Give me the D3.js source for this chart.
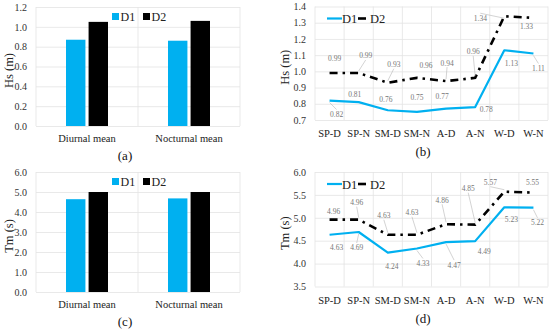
<!DOCTYPE html>
<html><head><meta charset="utf-8">
<script src="https://cdn.jsdelivr.net/npm/d3@7"></script>
<style>
html,body{margin:0;padding:0;background:#fff;}
svg{display:block;font-family:"Liberation Serif","Times New Roman",serif;}
</style></head>
<body><svg id="c" width="550" height="332"></svg>
<script>
// ---------- data ----------
const barCats = ["Diurnal mean", "Nocturnal mean"];
const hsBarD1 = [0.87, 0.86];
const hsBarD2 = [1.05, 1.06];
const tmBarD1 = [4.64, 4.68];
const tmBarD2 = [5.00, 5.00];
const hsBarTicks = [0, 0.2, 0.4, 0.6, 0.8, 1.0, 1.2];
const tmBarTicks = [0, 1, 2, 3, 4, 5, 6];

const seasonCats = ["SP-D", "SP-N", "SM-D", "SM-N", "A-D", "A-N", "W-D", "W-N"];
const hsD1 = [0.82, 0.81, 0.76, 0.75, 0.77, 0.78, 1.13, 1.11];
const hsD2 = [0.99, 0.99, 0.93, 0.96, 0.94, 0.96, 1.34, 1.33];
const tmD1 = [4.63, 4.69, 4.24, 4.33, 4.47, 4.49, 5.23, 5.22];
const tmD2 = [4.96, 4.96, 4.63, 4.63, 4.86, 4.85, 5.57, 5.55];
const hsLineTicks = [0.7, 0.8, 0.9, 1.0, 1.1, 1.2, 1.3, 1.4];
const tmLineTicks = [3.5, 4.0, 4.5, 5.0, 5.5, 6.0];

// ---------- layout (label offsets from points, px) ----------
const offHsD1 = [[7,14],[-4,-8],[-2,-11],[0,-14],[-4,-12],[11,2],[7,13],[5,15]];
const offHsD2 = [[5,-14],[7,-17],[6,-18],[9,-12],[1,-18],[-2,-26],[-24,2],[-7,9]];
const offTmD1 = [[7,13],[-2,16],[4,14],[6,15],[8,23],[9,10],[7,12],[4,15]];
const offTmD2 = [[4,-8],[-2,-17],[-4,-19],[-5,-22],[-4,-24],[-7,-36],[-14,-9],[-1,-10]];

const BLUE = "#00B0F0";
const GRID = "#e3e3e3";
const svg = d3.select("#c");

function yAxisLabels(g, y, ticks, x0, x1, fmt) {
  g.append("g")
    .attr("transform", `translate(${x0},0)`)
    .call(d3.axisLeft(y).tickValues(ticks).tickSize(-(x1 - x0)).tickFormat(fmt))
    .call(a => a.select(".domain").remove())
    .call(a => a.selectAll(".tick line").attr("stroke", GRID).attr("stroke-width", 0.8))
    .call(a => a.selectAll(".tick text").attr("x", -9).attr("fill", "#333")
      .style("font-size", "10px").style("font-family", "Liberation Serif"));
}

function barPanel(opts) {
  const { top, bottom, left, right, domainMax, ticks, d1, d2, ylabel, tag } = opts;
  const g = svg.append("g");
  const x = d3.scaleBand().domain(barCats).range([left, right]);
  const y = d3.scaleLinear().domain([0, domainMax]).range([bottom, top]);
  yAxisLabels(g, y, ticks, left, right, d3.format(".1f"));
  const edges = barCats.map(c => x(c)).concat([right]);
  g.selectAll("line.vg").data(edges).join("line")
    .attr("x1", d => d).attr("x2", d => d).attr("y1", top).attr("y2", bottom)
    .attr("stroke", GRID).attr("stroke-width", 0.8);
  const inner = d3.scaleBand().domain(["D1", "D2"]).range([0, 42]).paddingInner(0.14);
  const off = (x.bandwidth() - 42) / 2;
  const rows = [];
  barCats.forEach((c, i) => { rows.push({ c, s: "D1", v: d1[i] }); rows.push({ c, s: "D2", v: d2[i] }); });
  g.selectAll("rect.bar").data(rows).join("rect")
    .attr("x", d => x(d.c) + off + inner(d.s))
    .attr("width", inner.bandwidth())
    .attr("y", d => y(d.v)).attr("height", d => bottom - y(d.v))
    .attr("fill", d => d.s === "D1" ? BLUE : "#000");
  g.selectAll("text.cat").data(barCats).join("text")
    .attr("x", d => x(d) + x.bandwidth() / 2).attr("y", bottom + 16)
    .attr("text-anchor", "middle").attr("fill", "#222").style("font-size", "10.5px").text(d => d);
  g.append("text").attr("transform", `translate(13,${(top + bottom) / 2 + 4}) rotate(-90)`)
    .attr("text-anchor", "middle").attr("fill", "#222").style("font-size", "12.5px").text(ylabel);
  g.append("text").attr("x", 125).attr("y", bottom + 34).attr("text-anchor", "middle")
    .attr("fill", "#111").style("font-size", "13px").text(tag);
  const ly = top + 10;
  [["D1", BLUE, 112], ["D2", "#000", 143]].forEach(([t, c, lx]) => {
    g.append("rect").attr("x", lx).attr("y", ly - 4).attr("width", 7).attr("height", 7).attr("fill", c);
    g.append("text").attr("x", lx + 8.5).attr("y", ly + 3.5).attr("fill", "#222")
      .style("font-size", "12px").text(t);
  });
}

function linePanel(opts) {
  const { top, bottom, left, right, domain, ticks, d1, d2, o1, o2, ylabel, tag, fmt } = opts;
  const g = svg.append("g");
  const x = d3.scaleBand().domain(seasonCats).range([left, right]);
  const y = d3.scaleLinear().domain(domain).range([bottom, top]);
  yAxisLabels(g, y, ticks, left, right, d3.format(fmt));
  const edges = seasonCats.map(c => x(c)).concat([right]);
  g.selectAll("line.vg").data(edges).join("line")
    .attr("x1", d => d).attr("x2", d => d).attr("y1", top).attr("y2", bottom)
    .attr("stroke", GRID).attr("stroke-width", 0.8);
  const cx = c => x(c) + x.bandwidth() / 2;
  const line = d3.line().x((d, i) => cx(seasonCats[i])).y(d => y(d));
  g.append("path").attr("d", line(d2)).attr("fill", "none").attr("stroke", "#000")
    .attr("stroke-width", 2.6).attr("stroke-dasharray", "8,5,2.5,5");
  g.append("path").attr("d", line(d1)).attr("fill", "none").attr("stroke", BLUE)
    .attr("stroke-width", 2.2).attr("stroke-linejoin", "round");
  [[d1, o1], [d2, o2]].forEach(([vals, offs]) => {
    vals.forEach((v, i) => {
      const px = cx(seasonCats[i]), py = y(v);
      const lx = px + offs[i][0], ly = py + offs[i][1];
      const dist = Math.hypot(offs[i][0], offs[i][1]);
      if (dist > 15) {
        const sy = offs[i][1] < 0 ? ly + 4 : ly - 5;
        const ey = offs[i][1] < 0 ? py - 2 : py + 2;
        g.append("line").attr("x1", lx).attr("y1", sy).attr("x2", px).attr("y2", ey)
          .attr("stroke", "#b5b5b5").attr("stroke-width", 0.6);
      }
      g.append("text").attr("x", lx).attr("y", ly + 2.5).attr("text-anchor", "middle")
        .attr("fill", "#777").style("font-size", "7.5px").text(d3.format(".2f")(v));
    });
  });
  g.selectAll("text.cat").data(seasonCats).join("text")
    .attr("x", d => cx(d)).attr("y", bottom + 17)
    .attr("text-anchor", "middle").attr("fill", "#222").style("font-size", "10.5px").text(d => d);
  g.append("text").attr("transform", `translate(289,${(top + bottom) / 2 + 4}) rotate(-90)`)
    .attr("text-anchor", "middle").attr("fill", "#222").style("font-size", "12.5px").text(ylabel);
  g.append("text").attr("x", 423).attr("y", bottom + 36).attr("text-anchor", "middle")
    .attr("fill", "#111").style("font-size", "13px").text(tag);
  const ly = top + 12;
  g.append("line").attr("x1", 327).attr("x2", 342).attr("y1", ly).attr("y2", ly)
    .attr("stroke", BLUE).attr("stroke-width", 2.2);
  g.append("text").attr("x", 342).attr("y", ly + 4.5).attr("fill", "#222").style("font-size", "12.5px").text("D1");
  g.append("line").attr("x1", 358).attr("x2", 366).attr("y1", ly).attr("y2", ly)
    .attr("stroke", "#000").attr("stroke-width", 2.6);
  g.append("text").attr("x", 370).attr("y", ly + 4.5).attr("fill", "#222").style("font-size", "12.5px").text("D2");
}

barPanel({ top: 7, bottom: 126, left: 36, right: 240, domainMax: 1.2, ticks: hsBarTicks,
  d1: hsBarD1, d2: hsBarD2, ylabel: "Hs (m)", tag: "(a)" });
barPanel({ top: 172, bottom: 292, left: 36, right: 240, domainMax: 6, ticks: tmBarTicks,
  d1: tmBarD1, d2: tmBarD2, ylabel: "Tm (s)", tag: "(c)" });
linePanel({ top: 6.5, bottom: 120, left: 315, right: 548, domain: [0.7, 1.4], ticks: hsLineTicks,
  d1: hsD1, d2: hsD2, o1: offHsD1, o2: offHsD2, ylabel: "Hs (m)", tag: "(b)", fmt: ".1f" });
linePanel({ top: 172, bottom: 286.5, left: 315, right: 548, domain: [3.5, 6.0], ticks: tmLineTicks,
  d1: tmD1, d2: tmD2, o1: offTmD1, o2: offTmD2, ylabel: "Tm (s)", tag: "(d)", fmt: ".1f" });
</script></body></html>
